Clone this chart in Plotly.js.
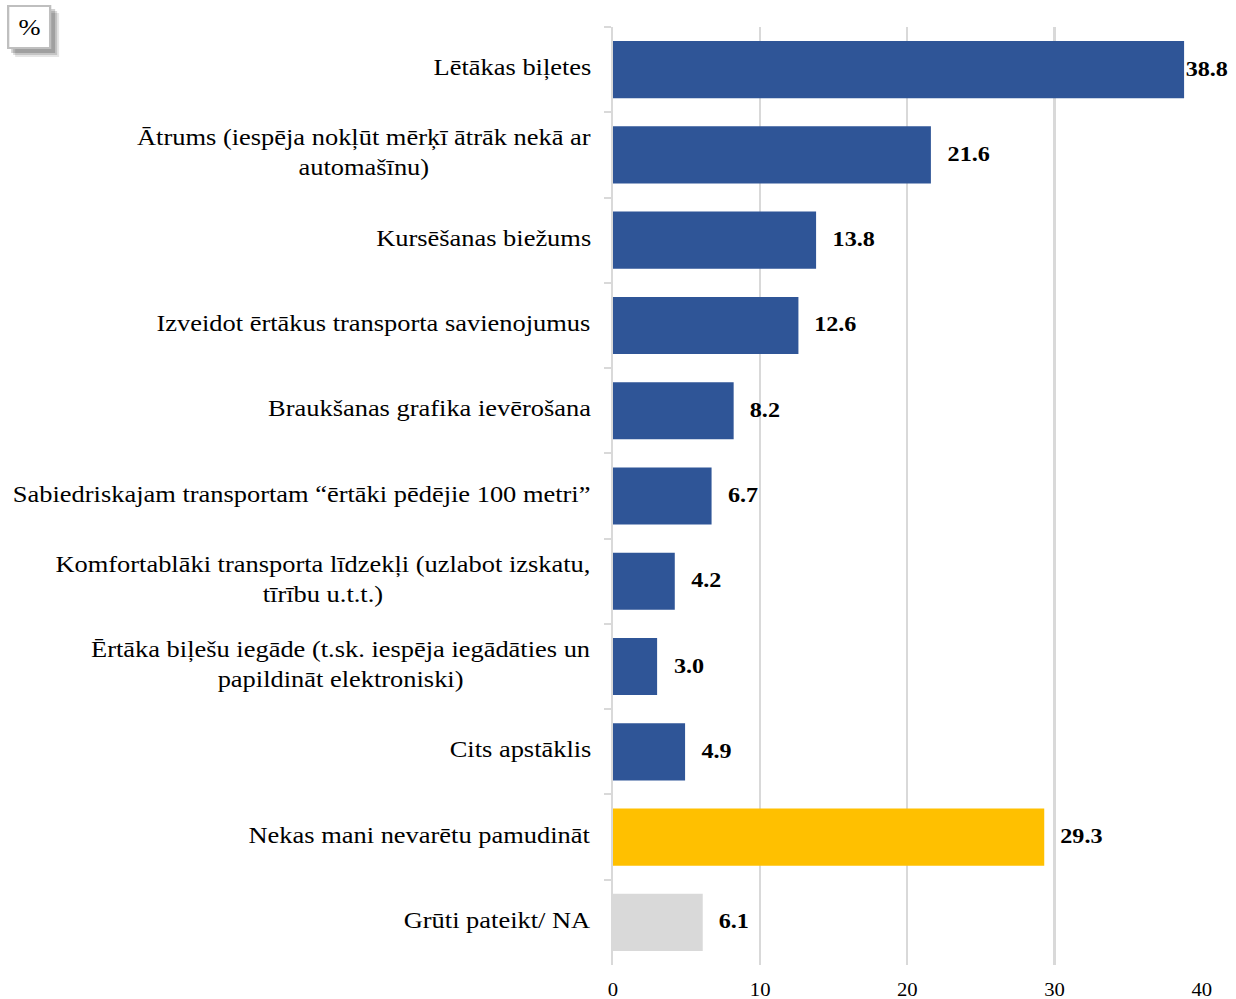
<!DOCTYPE html>
<html>
<head>
<meta charset="utf-8">
<script src="https://cdn.plot.ly/plotly-3.0.1.min.js"></script>
<style>
html,body{margin:0;padding:0;background:#fff;overflow:hidden;}
#wrap{width:1236px;height:999px;overflow:hidden;}
#chart{transform-origin:0 0;}
</style>
</head>
<body>
<div id="wrap"><div id="chart"></div></div>
<script>
const categories = [
  "Lētākas biļetes",
  "Ātrums (iespēja nokļūt mērķī ātrāk nekā ar<br>automašīnu)",
  "Kursēšanas biežums",
  "Izveidot ērtākus transporta savienojumus",
  "Braukšanas grafika ievērošana",
  "Sabiedriskajam transportam “ērtāki pēdējie 100 metri”",
  "Komfortablāki transporta līdzekļi (uzlabot izskatu,<br>tīrību u.t.t.)",
  "Ērtāka biļešu iegāde (t.sk. iespēja iegādāties un<br>papildināt elektroniski)",
  "Cits apstāklis",
  "Nekas mani nevarētu pamudināt",
  "Grūti pateikt/ NA"
];
const values = [38.8, 21.6, 13.8, 12.6, 8.2, 6.7, 4.2, 3.0, 4.9, 29.3, 6.1];
const barColors = ["#2F5597","#2F5597","#2F5597","#2F5597","#2F5597","#2F5597","#2F5597","#2F5597","#2F5597","#FFC000","#D9D9D9"];
const xTicks = [0, 10, 20, 30, 40];
const unitLabel = "%";

// the reference picture is horizontally stretched; draw narrower and stretch the whole figure
const S = 1.15;
const W = 1236 / S, H = 999;
const M = {l: 613 / S, r: 34 / S, t: 27, b: 34};
const plotW = W - M.l - M.r;
const plotH = H - M.t - M.b;
const px = v => (v / S - M.l) / plotW;   // picture pixel x -> paper
const py = v => 1 - (v - M.t) / plotH;   // picture pixel y -> paper

document.getElementById('chart').style.transform = 'scaleX(' + S + ')';

const annotations = [];
categories.forEach((c, i) => {
  annotations.push({
    x: 0, xref: 'paper', y: c, yref: 'y',
    xanchor: 'right', yanchor: 'middle', xshift: -20 / S, yshift: 2,
    text: c, showarrow: false, align: 'center',
    font: {family: 'Liberation Serif', size: 23, color: '#000'}
  });
  annotations.push({
    x: values[i], xref: 'x', y: c, yref: 'y',
    xanchor: 'left', yanchor: 'middle', xshift: values[i] > 35 ? -1 : 14 / S, yshift: 1,
    text: '<b>' + values[i].toFixed(1) + '</b>', showarrow: false,
    font: {family: 'Liberation Serif', size: 21, color: '#000'}
  });
});
annotations.push({
  x: px(29), xref: 'paper', y: py(28), yref: 'paper',
  xanchor: 'center', yanchor: 'middle', text: unitLabel, showarrow: false,
  font: {family: 'Liberation Serif', size: 23, color: '#000'}
});

const shapes = [];
// soft shadow of the unit box
[[9, 0.10], [7, 0.14], [5, 0.18]].forEach(([o, a]) => {
  shapes.push({type: 'rect', xref: 'paper', yref: 'paper', layer: 'above',
    x0: px(8 + o - 2), x1: px(50 + o), y0: py(6 + o - 2), y1: py(48 + o),
    line: {width: 0}, fillcolor: 'rgba(0,0,0,' + a + ')'});
});
shapes.push({type: 'rect', xref: 'paper', yref: 'paper', layer: 'above',
  x0: px(8), x1: px(50), y0: py(6), y1: py(48),
  line: {width: 2, color: '#bfbfbf'}, fillcolor: '#ffffff'});

const trace = {
  type: 'bar', orientation: 'h',
  x: values, y: categories,
  marker: {color: barColors},
  hoverinfo: 'x+y'
};

const layout = {
  width: W, height: H,
  margin: M,
  paper_bgcolor: '#fff', plot_bgcolor: '#fff',
  bargap: 0.33,
  showlegend: false,
  xaxis: {
    range: [0, 40], tickvals: xTicks, ticktext: xTicks.map(String),
    showgrid: true, gridcolor: '#d9d9d9', gridwidth: 2,
    zeroline: false, showline: false, ticks: '', ticklabelstandoff: 12,
    tickfont: {family: 'Liberation Serif', size: 18, color: '#000'},
    fixedrange: true
  },
  yaxis: {
    type: 'category', autorange: 'reversed',
    showticklabels: false, ticks: 'outside', tickson: 'boundaries',
    ticklen: 7 / S, tickcolor: '#d9d9d9', tickwidth: 2,
    showline: true, linecolor: '#d9d9d9', linewidth: 2,
    showgrid: false, zeroline: false, fixedrange: true
  },
  shapes: shapes,
  annotations: annotations
};

Plotly.newPlot('chart', [trace], layout, {displayModeBar: false, staticPlot: true});
</script>
</body>
</html>
